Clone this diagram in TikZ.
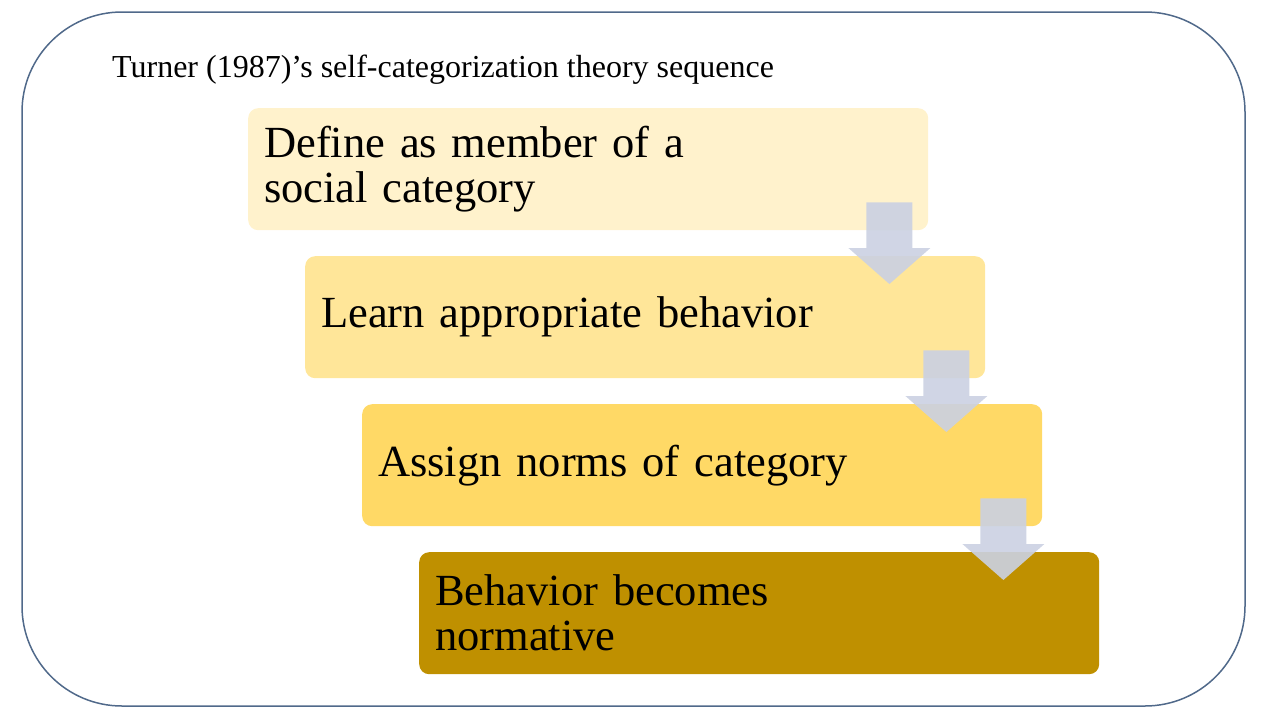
\documentclass[tikz,border=0pt]{standalone}
\usepackage{fontspec}
\setmainfont{Liberation Serif}
\usetikzlibrary{calc}

\definecolor{frameblue}{HTML}{50698A}
\definecolor{goldA}{HTML}{FFF2CC}
\definecolor{goldB}{HTML}{FFE699}
\definecolor{goldC}{HTML}{FFD966}
\definecolor{goldD}{HTML}{BF9000}
\definecolor{arrowgrey}{HTML}{CBD1E2}

\tikzset{
	stage/.style={anchor=north west, rounded corners=10pt, minimum width=680pt, minimum height=122pt,
		text width=648pt, inner xsep=16pt, align=left, font=\fontsize{44.5}{45}\selectfont},
	flow/.style={fill=arrowgrey, fill opacity=0.91}
}

% block arrow from the lower right of one stage to the next one
\newcommand\flowarrow[2]{%
	\fill[flow] ($(#1.south east)+(-62,28)$) -- ($(#1.south east)+(-16,28)$)
		-- ($(#1.south east |- #2.north)+(-16,8)$) -- ($(#1.south east |- #2.north)+(2,8)$)
		-- ($(#1.south east |- #2.north)+(-39,-28)$) -- ($(#1.south east |- #2.north)+(-80,8)$)
		-- ($(#1.south east |- #2.north)+(-62,8)$) -- cycle;}

\begin{document}
\begin{tikzpicture}[x=1pt, y=1pt]
	\useasboundingbox (0,0) rectangle (1280,-720);
	\draw [frameblue, line width=1.5pt, rounded corners=100pt] (22,-12) rectangle (1245,-706);
	\node (title) [anchor=base west, inner sep=0pt, font=\fontsize{32}{36}\selectfont] at (112,-77) {Turner (1987)’s self-categorization theory sequence};

	\node (define) [stage, fill=goldA] at (248,-108) {Define as member of a\\social category};
	\node (learn) [stage, fill=goldB] at (305,-256) {Learn appropriate behavior};
	\node (assign) [stage, fill=goldC] at (362,-404) {Assign norms of category};
	\node (normative) [stage, fill=goldD] at (419,-552) {Behavior becomes\\normative};

	\flowarrow{define}{learn}
	\flowarrow{learn}{assign}
	\flowarrow{assign}{normative}
\end{tikzpicture}
\end{document}
